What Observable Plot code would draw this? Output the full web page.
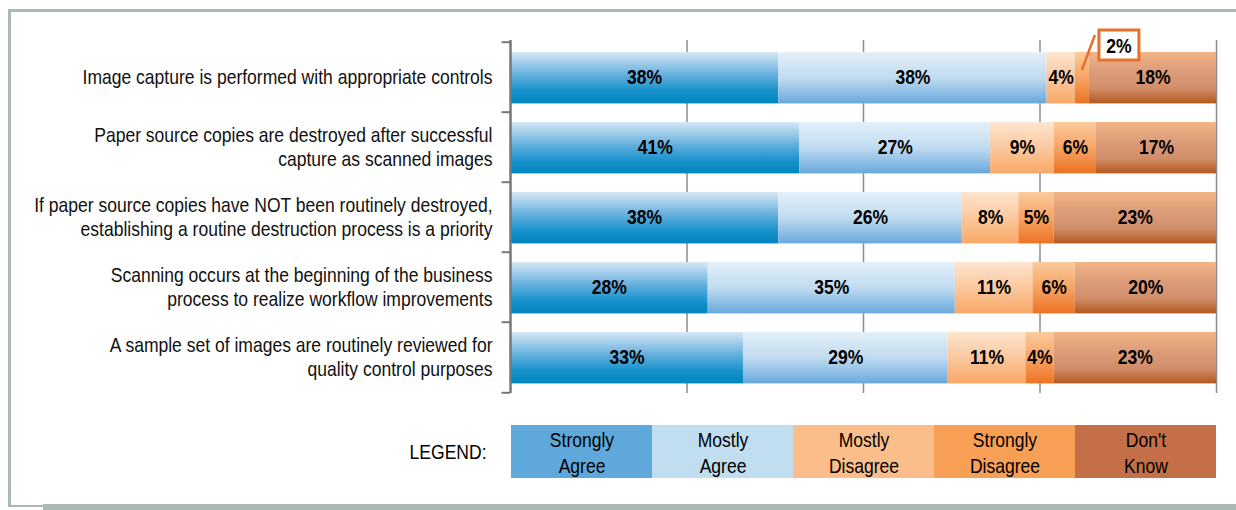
<!DOCTYPE html>
<html><head><meta charset="utf-8">
<script src="https://cdn.jsdelivr.net/npm/d3@7"></script>
<script src="https://cdn.jsdelivr.net/npm/@observablehq/plot@0.6"></script>
<style>
body{margin:0;background:#fff;width:1236px;height:510px;overflow:hidden;position:relative;font-family:"Liberation Sans",Arial,sans-serif;}
#frame{position:absolute;left:8px;top:9px;width:1300px;height:493px;border-left:3px solid #a9bab4;border-top:3px solid #a9bab4;border-bottom:2px solid #a9bab4;}
#shadow{position:absolute;left:43px;top:504px;width:1300px;height:6px;background:#a9bab4;}
#chart{position:absolute;left:0;top:0;}
#legend{position:absolute;left:0;top:425px;}
</style></head><body>
<div id="frame"></div><div id="shadow"></div>
<div id="chart"></div><div id="legend"></div>
<script>
const categories = [
  "Image capture is performed with appropriate controls",
  "Paper source copies are destroyed after successful capture as scanned images",
  "If paper source copies have NOT been routinely destroyed, establishing a routine destruction process is a priority",
  "Scanning occurs at the beginning of the business process to realize workflow improvements",
  "A sample set of images are routinely reviewed for quality control purposes"
];
const categoryLabels = [
  "Image capture is performed with appropriate controls",
  "Paper source copies are destroyed after successful\ncapture as scanned images",
  "If paper source copies have NOT been routinely destroyed,\nestablishing a routine destruction process is a priority",
  "Scanning occurs at the beginning of the business\nprocess to realize workflow improvements",
  "A sample set of images are routinely reviewed for\nquality control purposes"
];
const series = ["Strongly Agree", "Mostly Agree", "Mostly Disagree", "Strongly Disagree", "Don't Know"];
const legendLabels = ["Strongly\nAgree", "Mostly\nAgree", "Mostly\nDisagree", "Strongly\nDisagree", "Don't\nKnow"];
const stronglyAgree    = [38, 41, 38, 28, 33];
const mostlyAgree      = [38, 27, 26, 35, 29];
const mostlyDisagree   = [4, 9, 8, 11, 11];
const stronglyDisagree = [2, 6, 5, 6, 4];
const dontKnow         = [18, 17, 23, 20, 23];
const gridTicks = [25, 50, 75, 100];
const legendColors = ["#5ea8db", "#c1ddf0", "#fbbd89", "#f79f55", "#c46f47"];
const gradientStops = [
  [[0, "#d6e8f5"], [0.45, "#62aedd"], [0.75, "#1893cc"], [1, "#0084bf"]],
  [[0, "#e4f0f9"], [0.5, "#c0dbf0"], [1, "#68a8dc"]],
  [[0, "#fde5cf"], [0.5, "#fbc89e"], [1, "#f8a866"]],
  [[0, "#fbcb9c"], [0.5, "#f7a464"], [1, "#ec7222"]],
  [[0, "#f2b585"], [0.35, "#dd9d7b"], [0.7, "#d28e6b"], [1, "#b3581f"]]
];

const seriesValues = [stronglyAgree, mostlyAgree, mostlyDisagree, stronglyDisagree, dontKnow];
const rows = [];
categories.forEach((cat, i) => {
  let acc = 0;
  series.forEach((s, j) => {
    const v = seriesValues[j][i];
    rows.push({cat, series: s, si: j, value: v, x1: acc, x2: acc + v, mid: acc + v / 2});
    acc += v;
  });
});

const FONT = '"Liberation Sans",Arial,sans-serif';
const NARROW = 0.835; // horizontal compression to mimic a narrow typeface
const W = 1236, H = 400, MT = 40, MB = 7, ML = 510, MR = 20;
const step = (H - MT - MB) / categories.length;

function narrowText(svg) {
  svg.querySelectorAll("text").forEach(t => {
    const xa = t.getAttribute("x");
    const x = xa !== null && !isNaN(+xa) ? +xa : 0;
    if (xa !== null && !isNaN(+xa)) t.removeAttribute("x");
    const tr = t.getAttribute("transform") || "";
    t.setAttribute("transform", `${tr} translate(${x},0) scale(${NARROW},1)`);
  });
}

function defsMark() {
  const defs = d3.create("svg:defs");
  gradientStops.forEach((stops, j) => {
    const g = defs.append("linearGradient").attr("id", "grad" + j)
      .attr("x1", 0).attr("y1", 0).attr("x2", 0).attr("y2", 1);
    stops.forEach(([o, c]) => g.append("stop").attr("offset", o).attr("stop-color", c));
  });
  return defs.node();
}

const calloutRow = rows.find(r => r.cat === categories[0] && r.si === 3);
function calloutMark(index, scales) {
  const x = scales.x, y = scales.y;
  const bandTop = y(calloutRow.cat);
  const xs = x(calloutRow.x2);
  const g = d3.create("svg:g");
  g.append("line")
    .attr("x1", x(calloutRow.mid)).attr("y1", bandTop + 28)
    .attr("x2", xs + 6).attr("y2", bandTop - 7)
    .attr("stroke", "#e8702a").attr("stroke-width", 2.5);
  g.append("rect")
    .attr("x", xs + 10).attr("y", bandTop - 12)
    .attr("width", 40).attr("height", 30)
    .attr("fill", "#fff").attr("stroke", "#e8702a").attr("stroke-width", 3);
  g.append("text")
    .attr("x", xs + 30).attr("y", bandTop + 3)
    .attr("text-anchor", "middle").attr("dominant-baseline", "central")
    .attr("font-weight", "bold").attr("font-size", 21).attr("font-family", FONT)
    .text(calloutRow.value + "%");
  return g.node();
}

const chart = Plot.plot({
  width: W, height: H,
  marginTop: MT, marginBottom: MB, marginLeft: ML, marginRight: MR,
  x: {domain: [0, 100], axis: null},
  y: {domain: categories, padding: 0, axis: null},
  style: {fontFamily: FONT, background: "transparent", overflow: "visible", color: "#000"},
  marks: [
    defsMark,
    Plot.ruleX(gridTicks, {stroke: "#8c8c8c", strokeWidth: 1.5, strokeOpacity: 1}),
    ...series.map((s, j) => Plot.barX(rows.filter(r => r.si === j), {
      x1: "x1", x2: "x2", y: "cat", fill: `url(#grad${j})`, insetTop: 10, insetBottom: 8.6
    })),
    Plot.ruleX([0], {stroke: "#777", strokeWidth: 2.5}),
    Plot.ruleY(categories, {y: d => d, x1: -1.2, x2: 0, dy: -step / 2, stroke: "#777", strokeWidth: 2}),
    Plot.ruleY(categories.slice(-1), {y: d => d, x1: -1.2, x2: 0, dy: step / 2, stroke: "#777", strokeWidth: 2}),
    Plot.text(rows.filter(r => r !== calloutRow), {
      x: "mid", y: "cat", text: r => r.value + "%", fontWeight: "bold", fontSize: 21, dy: 0, fill: "#000"
    }),
    Plot.text(categories, {
      x: 0, y: d => d, text: (d, i) => categoryLabels[i], textAnchor: "end", dx: -18, dy: -1.5,
      fontSize: 21, lineHeight: 1.15, fill: "#111"
    }),
    calloutMark
  ]
});
narrowText(chart);
document.getElementById("chart").appendChild(chart);

const legend = Plot.plot({
  width: W, height: 53,
  marginTop: 0, marginBottom: 0, marginLeft: ML, marginRight: MR,
  x: {domain: series, padding: 0, axis: null},
  color: {domain: series, range: legendColors},
  style: {fontFamily: FONT, background: "transparent", overflow: "visible", color: "#000"},
  marks: [
    Plot.cell(series, {x: d => d, fill: d => d}),
    Plot.text(series, {x: d => d, text: (d, i) => legendLabels[i], fontSize: 21, lineHeight: 1.2, fill: "#000"}),
    Plot.text(["LEGEND:"], {frameAnchor: "left", text: d => d, textAnchor: "end", dx: -24, fontSize: 21, fill: "#000"})
  ]
});
narrowText(legend);
document.getElementById("legend").appendChild(legend);
</script>
</body></html>
